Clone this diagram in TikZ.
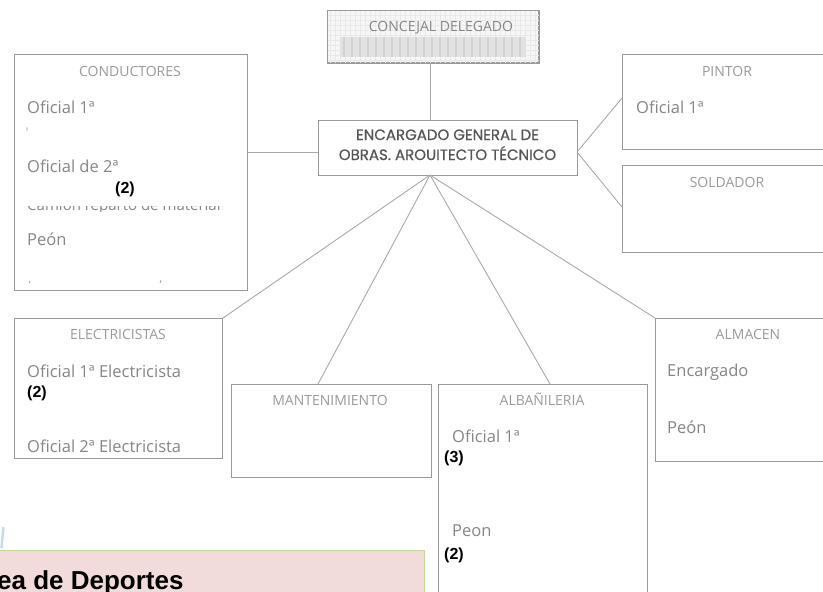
\documentclass[tikz,border=0pt]{standalone}
\usepackage{fontspec}
\setmainfont{Open Sans}
\newfontfamily\bodyf{Open Sans}
\newfontfamily\headf[FakeBold=0.6]{Poppins}
\newfontfamily\numf{Liberation Sans}
\usetikzlibrary{calc}
\definecolor{boxline}{HTML}{9A9A9A}
\definecolor{connc}{HTML}{A8A8A8}
\definecolor{txtgray}{HTML}{868686}
\definecolor{ttlgray}{HTML}{9A9A9A}
\definecolor{headgray}{HTML}{555555}
\definecolor{gridc}{HTML}{E9E9E9}
\definecolor{concfill}{HTML}{F6F6F6}
\definecolor{barfill}{HTML}{E2E2E2}
\definecolor{barline}{HTML}{D2D2D2}
\definecolor{pinkf}{HTML}{F2DCDB}
\definecolor{greenb}{HTML}{C3D69B}
\definecolor{lblue}{HTML}{C5D9F1}
\begin{document}
\begin{tikzpicture}[x=1pt,y=-1pt,
  box/.style={draw=boxline, line width=1pt, fill=white, anchor=north west, inner sep=0pt},
  conn/.style={draw=connc, line width=0.9pt},
  ttl/.style={text=ttlgray, font=\bodyf\fontsize{14}{16}\selectfont, anchor=base, inner sep=0pt},
  body/.style={text=txtgray, font=\bodyf\fontsize{16.5}{19}\selectfont, anchor=base west, inner sep=0pt},
  num/.style={text=black, font=\numf\bfseries\fontsize{16}{18}\selectfont, anchor=base west, inner sep=0pt},
  head/.style={text=headgray, font=\headf\fontsize{15}{18}\selectfont, anchor=base, inner sep=0pt}]
\useasboundingbox (0,0) rectangle (823,592);

% bottom band
\node[draw=greenb, fill=pinkf, line width=1pt, anchor=north west, minimum width=428pt, minimum height=60pt, inner sep=0pt] (band) at (-4,550) {};
\node[anchor=base west, inner sep=0pt, font=\numf\bfseries\fontsize{26}{30}\selectfont] (bandt) at (-3,589) {ea de Deportes};
\coordinate (bl1) at (3.5,527);
\coordinate (bl2) at (1.5,548);
\draw[lblue, line width=2.5pt] (bl1) -- (bl2);

% boxes
\node[box, fill=concfill, minimum width=211pt, minimum height=52pt] (conc) at (327,10) {};
\begin{scope}
\clip (conc.south west) rectangle (conc.north east);
\draw[gridc, line width=0.5pt, step=5pt] (conc.south west) grid (conc.north east);
\end{scope}
\draw[boxline, line width=1pt] (conc.south west) rectangle (conc.north east);
\node[fill=barfill, anchor=north west, minimum width=186pt, minimum height=20pt, inner sep=0pt] (bar) at (340,37) {};
\begin{scope}
\clip (bar.south west) rectangle (bar.north east);
\foreach \i in {0,...,23} {\draw[barline, line width=1.2pt] ($(bar.north west)+(4+\i*8,0)$) -- ++(0,20);}
\end{scope}
\node[ttl, text=txtgray] (conct) at (441,31) {CONCEJAL DELEGADO};

\node[box, minimum width=233pt, minimum height=236pt] (cond) at (14,54) {};
\node[box, minimum width=259pt, minimum height=55pt] (enc) at (318,120) {};
\node[box, minimum width=215pt, minimum height=95pt] (pint) at (622,54) {};
\node[box, minimum width=215pt, minimum height=87pt] (sold) at (622,165) {};
\node[box, minimum width=208pt, minimum height=140pt] (elec) at (14,318) {};
\node[box, minimum width=200pt, minimum height=93pt] (mant) at (231,384) {};
\node[box, minimum width=209pt, minimum height=230pt] (alb) at (438,384) {};
\node[box, minimum width=185pt, minimum height=143pt] (alm) at (655,318) {};

% connectors
\coordinate (apex) at (430,175);
\coordinate (encl) at (318,152);
\coordinate (encr) at (577,152);
\draw[conn] (conc.south -| apex) -- (enc.north -| apex);
\draw[conn] (encl) -- (cond.east |- encl);
\draw[conn] (encr) -- ($(pint.north west)+(0,44)$);
\draw[conn] (encr) -- ($(sold.north west)+(0,42)$);
\draw[conn] (apex) -- (elec.north east);
\draw[conn] (apex) -- ($(mant.north west)+(87,0)$);
\draw[conn] (apex) -- ($(alb.north west)+(112,0)$);
\draw[conn] (apex) -- (alm.north west);

% header text
\node[head] (enc1) at (447.5,140) {ENCARGADO GENERAL DE};
\node[head] (enc2) at (447.5,160) {OBRAS. AROUITECTO TÉCNICO};

% conductores
\node[ttl] (condt) at (130,76) {CONDUCTORES};
\node[body] (c1) at (27,113) {Oficial 1ª};
\draw[txtgray, line width=0.6pt] (27.2,127) -- (26.8,131);
\node[body] (c2) at (27,172) {Oficial de 2ª};
\node[num] (c2n) at (115,193) {(2)};
\begin{scope}
\clip (20,206.5) rectangle (235,211);
\node[body, font=\bodyf\fontsize{15}{17}\selectfont] (c3) at (27,210) {Camión reparto de material};
\end{scope}
\node[body] (c4) at (27,245) {Peón};
\draw[txtgray, line width=0.6pt] (29,281) -- (30,283);
\draw[txtgray, line width=0.6pt] (161,280) -- (160,283);

% pintor / soldador
\node[ttl] (pintt) at (727,76) {PINTOR};
\node[body] (p1) at (636,113) {Oficial 1ª};
\node[ttl] (soldt) at (727,187) {SOLDADOR};

% electricistas
\node[ttl] (elect) at (118,339) {ELECTRICISTAS};
\node[body] (e1) at (27,377) {Oficial 1ª Electricista};
\node[num] (e1n) at (27,397) {(2)};
\node[body] (e2) at (27,452) {Oficial 2ª Electricista};

% mantenimiento
\node[ttl] (mantt) at (330,405) {MANTENIMIENTO};

% albanileria
\node[ttl] (albt) at (542,405) {ALBAÑILERIA};
\node[body] (a1) at (452,442) {Oficial 1ª};
\node[num] (a1n) at (444,462) {(3)};
\node[body] (a2) at (452,536) {Peon};
\node[num] (a2n) at (444,559) {(2)};

% almacen
\node[ttl] (almt) at (748,339) {ALMACEN};
\node[body] (m1) at (667,376) {Encargado};
\node[body] (m2) at (667,433) {Peón};
\end{tikzpicture}
\end{document}
